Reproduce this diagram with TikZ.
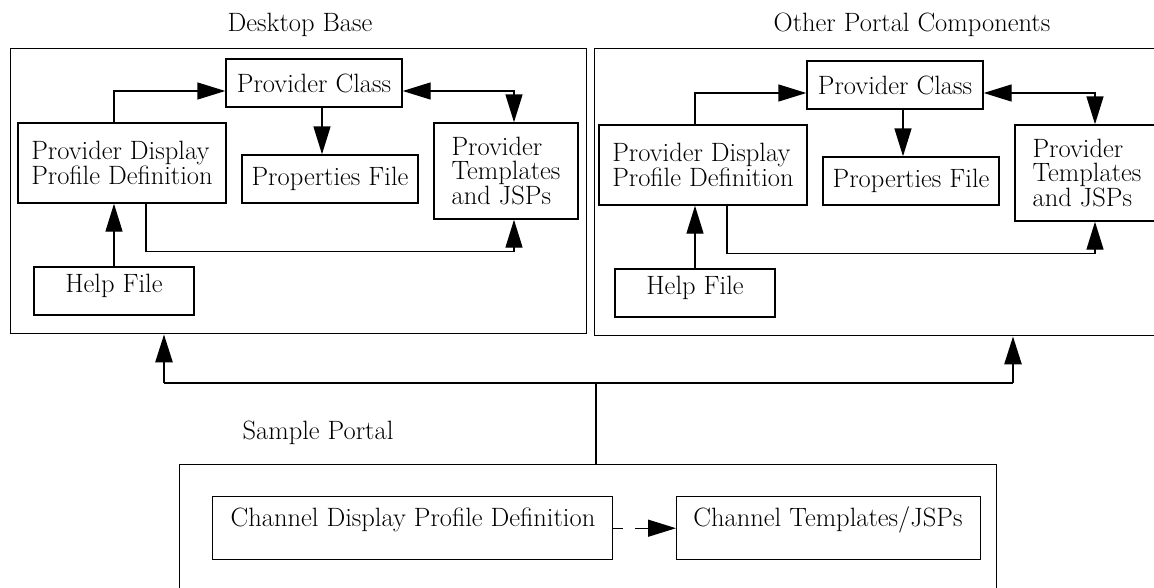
\documentclass[tikz,border=0pt]{standalone}
\usetikzlibrary{arrows.meta,calc}
\begin{document}
\begin{tikzpicture}[x=1pt,y=-1pt,
  lw/.style={line width=1.4pt},
  box/.style={draw,lw,rectangle,inner sep=0pt,font=\fontsize{26.5}{24.5}\selectfont},
  txt/.style={inner sep=0pt,font=\fontsize{26.5}{24.5}\selectfont},
  arr/.style={lw,-{Triangle[length=28pt,width=17pt]}},
  arrb/.style={lw,{Triangle[length=28pt,width=17pt]}-{Triangle[length=28pt,width=17pt]}},
  bus/.style={line width=2.6pt},
  panel/.pic={
    \node[box,minimum width=176pt,minimum height=48pt] (-pc) at (314,83) {Provider Class};
    \node[box,minimum width=208pt,minimum height=80pt,align=left] (-pdpd) at (122,163) {Provider Display\\Profile Definition};
    \node[box,minimum width=176pt,minimum height=48pt] (-props) at (330,179) {Properties File};
    \node[box,minimum width=144pt,minimum height=96pt,align=left] (-tpl) at (506,171) {Provider\\Templates\\and JSPs};
    \node[box,minimum width=160pt,minimum height=48pt] (-help) at (114,291) {};
    \node[txt] (-helpt) at (114,286) {Help File};
    \draw[arr] ($(-pdpd.north)+(-8,0)$) |- ($(-pc.west)+(0,8)$);
    \draw[arrb] ($(-pc.east)+(0,8)$) -| ($(-tpl.north)+(8,0)$);
    \draw[arr] ($(-pc.south)+(8,0)$) -- ($(-props.north)+(-8,0)$);
    \draw[arr] (-help.north) -- ($(-pdpd.south)+(-8,0)$);
    \draw[arr] ($(-pdpd.south)+(24,0)$) -- ++(0,48) -| ($(-tpl.south)+(8,0)$);
  }]
\clip (0,0) rectangle (1154,587);
% titles
\node[txt] (t1) at (300,25) {Desktop Base};
\node[txt] (t2) at (912,25) {Other Portal Components};
\node[txt] (t3) at (318,433) {Sample Portal};
% big boxes
\node[box,anchor=north west,minimum width=576pt,minimum height=285pt] (L) at (10,48) {};
\node[box,anchor=north west,minimum width=580pt,minimum height=287pt] (R) at (594,48) {};
\pic (Lp) at (0,0) {panel};
\pic (Rp) at (581,2) {panel};
% sample portal
\node[box,anchor=north west,minimum width=817pt,minimum height=140pt] (S) at (179,464) {};
\node[box,anchor=north west,minimum width=400pt,minimum height=63pt] (cdpd) at (212,496) {};
\node[box,anchor=north west,minimum width=304pt,minimum height=63pt] (ct) at (676,496) {};
\node[txt] (cdpdt) at (413,520) {Channel Display Profile Definition};
\node[txt] (ctt) at (828,520) {Channel Templates/JSPs};
\draw[arr,dash pattern=on 10pt off 12pt on 200pt] (cdpd.east) -- (ct.west);
% bus
\coordinate (busL) at (164,383);
\coordinate (busR) at (1013,383);
\coordinate (busM) at (596,383);
\draw[bus] (busL) -- (busR);
\draw[bus,-{Triangle[length=28pt,width=17pt]}] (busL) -- (busL |- L.south);
\draw[bus,-{Triangle[length=28pt,width=17pt]}] (busR) -- (busR |- R.south);
\draw[lw] (busM) -- (busM |- S.north);
\end{tikzpicture}
\end{document}
